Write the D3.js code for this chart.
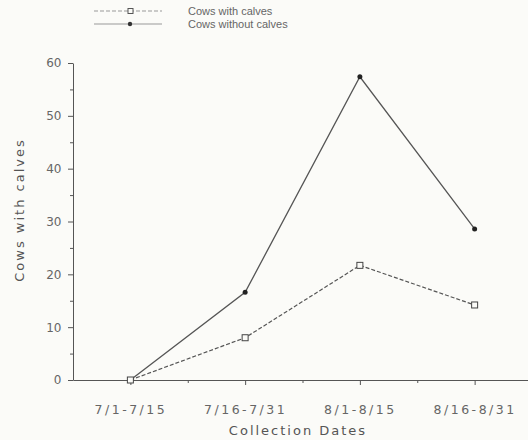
<!DOCTYPE html>
<html>
<head>
<meta charset="utf-8">
<script src="https://cdn.jsdelivr.net/npm/d3@7"></script>
<style>
  body { margin: 0; background: #fbfbf8; }
  svg { display: block; }
  .axis path, .axis line { stroke: #555; }
  .axis text { fill: #666; font-family: "DejaVu Sans", sans-serif; font-size: 12px; }
  .xaxis text { font-size: 12.5px; letter-spacing: 2.5px; }
  .label { fill: #555; font-family: "DejaVu Sans", sans-serif; font-size: 13px; letter-spacing: 2px; }
  .legend text { fill: #666; font-family: "Liberation Sans", sans-serif; font-size: 11px; }
</style>
</head>
<body>
<script>
// data
var dates = ["7/1-7/15", "7/16-7/31", "8/1-8/15", "8/16-8/31"];
var withCalves = [0, 8, 21.7, 14.2];
var withoutCalves = [0, 16.6, 57.4, 28.6];
var yTicks = [0, 10, 20, 30, 40, 50, 60];

var width = 528, height = 440;
var margin = {top: 63, right: 0, bottom: 60, left: 73};

var svg = d3.select("body").append("svg")
	.attr("width", width)
	.attr("height", height);

var xScale = d3.scaleLinear().domain([-0.5, 3.5]).range([margin.left, 532]);
var yScale = d3.scaleLinear().domain([0, 60]).range([height - margin.bottom, margin.top]);

//minor ticks first
svg.append("g")
	.attr("class", "axis")
	.attr("transform", "translate(0," + yScale(0) + ")")
	.call(d3.axisBottom(xScale).tickValues([0.5, 1.5, 2.5]).tickSize(3).tickFormat(""))
	.select(".domain").remove();
svg.append("g")
	.attr("class", "axis")
	.attr("transform", "translate(" + margin.left + ",0)")
	.call(d3.axisLeft(yScale).tickValues(d3.range(5, 60, 10)).tickSize(3).tickFormat(""))
	.select(".domain").remove();

//major axes
var gX = svg.append("g")
	.attr("class", "axis xaxis")
	.attr("transform", "translate(0," + yScale(0) + ")")
	.call(d3.axisBottom(xScale).tickValues(d3.range(dates.length)).tickSize(5).tickSizeOuter(0)
		.tickFormat(function(d) { return dates[d]; }));
gX.selectAll("text").attr("dy", "2.1em");

var gY = svg.append("g")
	.attr("class", "axis")
	.attr("transform", "translate(" + margin.left + ",0)")
	.call(d3.axisLeft(yScale).tickValues(yTicks).tickSize(5).tickSizeOuter(0));
gY.selectAll("text").attr("dx", "-0.3em");

//axes labels
svg.append("text")
	.attr("class", "label")
	.attr("x", 298)
	.attr("y", 435)
	.style("text-anchor", "middle")
	.text("Collection  Dates");
svg.append("text")
	.attr("class", "label")
	.attr("transform", "rotate(-90)")
	.attr("x", -210)
	.attr("y", 24)
	.style("text-anchor", "middle")
	.text("Cows  with  calves");

var line = d3.line()
	.x(function(d, i) { return xScale(i); })
	.y(function(d) { return yScale(d); });

// without calves: solid line, filled dots
svg.append("path")
	.datum(withoutCalves)
	.attr("d", line)
	.attr("fill", "none")
	.attr("stroke", "#555")
	.attr("stroke-width", 1.3);
svg.append("g").selectAll("circle")
	.data(withoutCalves).enter()
	.append("circle")
	.attr("cx", function(d, i) { return xScale(i); })
	.attr("cy", function(d) { return yScale(d); })
	.attr("r", 2.5)
	.attr("fill", "#222");

// with calves: dashed line, open squares
svg.append("path")
	.datum(withCalves)
	.attr("d", line)
	.attr("fill", "none")
	.attr("stroke", "#555")
	.attr("stroke-width", 1.2)
	.attr("stroke-dasharray", "4,2");
svg.append("g").selectAll("rect")
	.data(withCalves).enter()
	.append("rect")
	.attr("x", function(d, i) { return xScale(i) - 3; })
	.attr("y", function(d) { return yScale(d) - 3; })
	.attr("width", 6)
	.attr("height", 6)
	.attr("fill", "#fbfbf8")
	.attr("stroke", "#444")
	.attr("stroke-width", 1);

//legend
var legend = svg.append("g").attr("class", "legend");
var legendItems = [
	{name: "Cows with calves", dash: "4,2", mark: "rect", y: 11},
	{name: "Cows without calves", dash: null, mark: "circle", y: 24}
];
legendItems.forEach(function(d) {
	legend.append("line")
		.attr("x1", 94).attr("x2", 162)
		.attr("y1", d.y).attr("y2", d.y)
		.attr("stroke", "#999")
		.attr("stroke-dasharray", d.dash);
	if (d.mark == "rect") {
		legend.append("rect")
			.attr("x", 128).attr("y", d.y - 2.5)
			.attr("width", 5).attr("height", 5)
			.attr("fill", "#fbfbf8").attr("stroke", "#555");
	} else {
		legend.append("circle")
			.attr("cx", 130).attr("cy", d.y).attr("r", 2.2)
			.attr("fill", "#333");
	}
	legend.append("text")
		.attr("x", 188).attr("y", d.y + 4)
		.text(d.name);
});
</script>
</body>
</html>
